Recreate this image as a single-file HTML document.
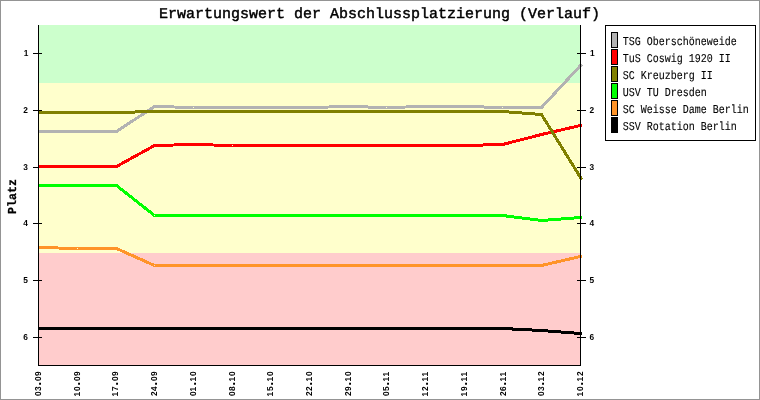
<!DOCTYPE html>
<html lang="de"><head><meta charset="utf-8"><title>Erwartungswert der Abschlussplatzierung (Verlauf)</title>
<style>html,body{margin:0;padding:0;background:#fff}svg{display:block}text{text-rendering:geometricPrecision;font-family:"Liberation Mono","DejaVu Sans Mono",monospace;fill:#000}</style></head><body>
<svg width="760" height="400" viewBox="0 0 760 400">
<g shape-rendering="crispEdges">
<rect x="0" y="0" width="760" height="400" fill="#fff"/>
<rect x="0.5" y="0.5" width="759" height="399" fill="none" stroke="#949494" stroke-width="1"/>
<rect x="39" y="25" width="542" height="58" fill="#ccffcc"/>
<rect x="39" y="83" width="542" height="170" fill="#ffffcc"/>
<rect x="39" y="253" width="542" height="112" fill="#ffcccc"/>
<rect x="33" y="53" width="9" height="1" fill="#000"/>
<rect x="577" y="53" width="9" height="1" fill="#000"/>
<rect x="33" y="110" width="9" height="1" fill="#000"/>
<rect x="577" y="110" width="9" height="1" fill="#000"/>
<rect x="33" y="167" width="9" height="1" fill="#000"/>
<rect x="577" y="167" width="9" height="1" fill="#000"/>
<rect x="33" y="223" width="9" height="1" fill="#000"/>
<rect x="577" y="223" width="9" height="1" fill="#000"/>
<rect x="33" y="280" width="9" height="1" fill="#000"/>
<rect x="577" y="280" width="9" height="1" fill="#000"/>
<rect x="33" y="337" width="9" height="1" fill="#000"/>
<rect x="577" y="337" width="9" height="1" fill="#000"/>
<polyline points="39.0,131.5 77.5,131.5 116.5,131.5 154.5,106.5 193.5,107.5 232.5,107.5 270.5,107.5 309.5,107.5 348.5,106.5 386.5,107.5 425.5,106.5 464.5,106.5 502.5,107.5 541.5,107.5 580.5,65.5 581.7,64.21" fill="none" stroke="#b2b2b2" stroke-width="3" stroke-linejoin="round"/>
<polyline points="39.0,166.5 77.5,166.5 116.5,166.5 154.5,145.5 193.5,144.5 232.5,145.5 270.5,145.5 309.5,145.5 348.5,145.5 386.5,145.5 425.5,145.5 464.5,145.5 502.5,144.5 541.5,134.5 580.5,125.5 581.7,125.22" fill="none" stroke="#ff0000" stroke-width="3" stroke-linejoin="round"/>
<polyline points="39.0,112.5 77.5,112.5 116.5,112.5 154.5,111.5 193.5,111.5 232.5,111.5 270.5,111.5 309.5,111.5 348.5,111.5 386.5,111.5 425.5,111.5 464.5,111.5 502.5,111.5 541.5,114.5 580.5,177.5 581.7,179.44" fill="none" stroke="#808000" stroke-width="3" stroke-linejoin="round"/>
<polyline points="39.0,185.5 77.5,185.5 116.5,185.5 154.5,215.5 193.5,215.5 232.5,215.5 270.5,215.5 309.5,215.5 348.5,215.5 386.5,215.5 425.5,215.5 464.5,215.5 502.5,215.5 541.5,220.5 580.5,217.5 581.7,217.41" fill="none" stroke="#00ff00" stroke-width="3" stroke-linejoin="round"/>
<polyline points="39.0,247.5 77.5,248.5 116.5,248.5 154.5,265.5 193.5,265.5 232.5,265.5 270.5,265.5 309.5,265.5 348.5,265.5 386.5,265.5 425.5,265.5 464.5,265.5 502.5,265.5 541.5,265.5 580.5,256.5 581.7,256.22" fill="none" stroke="#ff9429" stroke-width="3" stroke-linejoin="round"/>
<polyline points="39.0,328.5 77.5,328.5 116.5,328.5 154.5,328.5 193.5,328.5 232.5,328.5 270.5,328.5 309.5,328.5 348.5,328.5 386.5,328.5 425.5,328.5 464.5,328.5 502.5,328.5 541.5,330.5 580.5,333.5 581.7,333.59" fill="none" stroke="#000000" stroke-width="3" stroke-linejoin="round"/>
<rect x="38" y="25" width="1" height="341" fill="#000"/>
<rect x="580" y="25" width="1" height="341" fill="#000"/>
<rect x="38" y="365" width="543" height="1" fill="#000"/>
<rect x="605.5" y="25.5" width="150" height="115" fill="#fff" stroke="#000" stroke-width="1"/>
<rect x="611.5" y="32.5" width="6" height="15" fill="#b2b2b2" stroke="#000" stroke-width="1"/>
<rect x="611.5" y="49.5" width="6" height="15" fill="#ff0000" stroke="#000" stroke-width="1"/>
<rect x="611.5" y="66.5" width="6" height="15" fill="#808000" stroke="#000" stroke-width="1"/>
<rect x="611.5" y="83.5" width="6" height="15" fill="#00ff00" stroke="#000" stroke-width="1"/>
<rect x="611.5" y="100.5" width="6" height="15" fill="#ff9429" stroke="#000" stroke-width="1"/>
<rect x="611.5" y="117.5" width="6" height="15" fill="#000000" stroke="#000" stroke-width="1"/>
</g>
<text id="title" x="159" y="17.5" font-size="15" stroke="#000" stroke-width="0.45" textLength="441" lengthAdjust="spacing">Erwartungswert der Abschlussplatzierung (Verlauf)</text>
<text class="leg" transform="translate(622.8,45) scale(0.8333,1)" font-size="12" stroke="#000" stroke-width="0.1">TSG Oberschöneweide</text>
<text class="leg" transform="translate(622.8,62) scale(0.8333,1)" font-size="12" stroke="#000" stroke-width="0.1">TuS Coswig 1920 II</text>
<text class="leg" transform="translate(622.8,79) scale(0.8333,1)" font-size="12" stroke="#000" stroke-width="0.1">SC Kreuzberg II</text>
<text class="leg" transform="translate(622.8,96) scale(0.8333,1)" font-size="12" stroke="#000" stroke-width="0.1">USV TU Dresden</text>
<text class="leg" transform="translate(622.8,113) scale(0.8333,1)" font-size="12" stroke="#000" stroke-width="0.1">SC Weisse Dame Berlin</text>
<text class="leg" transform="translate(622.8,130) scale(0.8333,1)" font-size="12" stroke="#000" stroke-width="0.1">SSV Rotation Berlin</text>
<text class="tk" transform="translate(23.2,56) scale(0.97,1)" x="0.52" style="font-family:'Liberation Sans',Arial,sans-serif" font-size="8.6" font-weight="bold">1</text>
<text class="tk" transform="translate(589.5,56) scale(0.97,1)" x="0.52" style="font-family:'Liberation Sans',Arial,sans-serif" font-size="8.6" font-weight="bold">1</text>
<text class="tk" transform="translate(23.2,113) scale(0.97,1)" x="0.00" style="font-family:'Liberation Sans',Arial,sans-serif" font-size="8.6" font-weight="bold">2</text>
<text class="tk" transform="translate(589.5,113) scale(0.97,1)" x="0.00" style="font-family:'Liberation Sans',Arial,sans-serif" font-size="8.6" font-weight="bold">2</text>
<text class="tk" transform="translate(23.2,170) scale(0.97,1)" x="0.00" style="font-family:'Liberation Sans',Arial,sans-serif" font-size="8.6" font-weight="bold">3</text>
<text class="tk" transform="translate(589.5,170) scale(0.97,1)" x="0.00" style="font-family:'Liberation Sans',Arial,sans-serif" font-size="8.6" font-weight="bold">3</text>
<text class="tk" transform="translate(23.2,226) scale(0.97,1)" x="0.00" style="font-family:'Liberation Sans',Arial,sans-serif" font-size="8.6" font-weight="bold">4</text>
<text class="tk" transform="translate(589.5,226) scale(0.97,1)" x="0.00" style="font-family:'Liberation Sans',Arial,sans-serif" font-size="8.6" font-weight="bold">4</text>
<text class="tk" transform="translate(23.2,283) scale(0.97,1)" x="0.00" style="font-family:'Liberation Sans',Arial,sans-serif" font-size="8.6" font-weight="bold">5</text>
<text class="tk" transform="translate(589.5,283) scale(0.97,1)" x="0.00" style="font-family:'Liberation Sans',Arial,sans-serif" font-size="8.6" font-weight="bold">5</text>
<text class="tk" transform="translate(23.2,340) scale(0.97,1)" x="0.00" style="font-family:'Liberation Sans',Arial,sans-serif" font-size="8.6" font-weight="bold">6</text>
<text class="tk" transform="translate(589.5,340) scale(0.97,1)" x="0.00" style="font-family:'Liberation Sans',Arial,sans-serif" font-size="8.6" font-weight="bold">6</text>
<text class="xl" transform="translate(41,396) rotate(-90) scale(0.97,1)" x="0.00 5.15 10.93 15.46 20.62" style="font-family:'Liberation Sans',Arial,sans-serif" font-size="8.6" font-weight="bold">03<tspan font-size="13">.</tspan>09</text>
<text class="xl" transform="translate(80,396) rotate(-90) scale(0.97,1)" x="-0.41 5.15 10.93 15.46 20.62" style="font-family:'Liberation Sans',Arial,sans-serif" font-size="8.6" font-weight="bold">10<tspan font-size="13">.</tspan>09</text>
<text class="xl" transform="translate(118,396) rotate(-90) scale(0.97,1)" x="-0.41 5.15 10.93 15.46 20.62" style="font-family:'Liberation Sans',Arial,sans-serif" font-size="8.6" font-weight="bold">17<tspan font-size="13">.</tspan>09</text>
<text class="xl" transform="translate(157,396) rotate(-90) scale(0.97,1)" x="0.00 5.15 10.93 15.46 20.62" style="font-family:'Liberation Sans',Arial,sans-serif" font-size="8.6" font-weight="bold">24<tspan font-size="13">.</tspan>09</text>
<text class="xl" transform="translate(196,396) rotate(-90) scale(0.97,1)" x="0.00 4.74 10.93 15.05 20.62" style="font-family:'Liberation Sans',Arial,sans-serif" font-size="8.6" font-weight="bold">01<tspan font-size="13">.</tspan>10</text>
<text class="xl" transform="translate(235,396) rotate(-90) scale(0.97,1)" x="0.00 5.15 10.93 15.05 20.62" style="font-family:'Liberation Sans',Arial,sans-serif" font-size="8.6" font-weight="bold">08<tspan font-size="13">.</tspan>10</text>
<text class="xl" transform="translate(273,396) rotate(-90) scale(0.97,1)" x="-0.41 5.15 10.93 15.05 20.62" style="font-family:'Liberation Sans',Arial,sans-serif" font-size="8.6" font-weight="bold">15<tspan font-size="13">.</tspan>10</text>
<text class="xl" transform="translate(312,396) rotate(-90) scale(0.97,1)" x="0.00 5.15 10.93 15.05 20.62" style="font-family:'Liberation Sans',Arial,sans-serif" font-size="8.6" font-weight="bold">22<tspan font-size="13">.</tspan>10</text>
<text class="xl" transform="translate(351,396) rotate(-90) scale(0.97,1)" x="0.00 5.15 10.93 15.05 20.62" style="font-family:'Liberation Sans',Arial,sans-serif" font-size="8.6" font-weight="bold">29<tspan font-size="13">.</tspan>10</text>
<text class="xl" transform="translate(389,396) rotate(-90) scale(0.97,1)" x="0.00 5.15 10.93 15.05 20.21" style="font-family:'Liberation Sans',Arial,sans-serif" font-size="8.6" font-weight="bold">05<tspan font-size="13">.</tspan>11</text>
<text class="xl" transform="translate(428,396) rotate(-90) scale(0.97,1)" x="-0.41 5.15 10.93 15.05 20.21" style="font-family:'Liberation Sans',Arial,sans-serif" font-size="8.6" font-weight="bold">12<tspan font-size="13">.</tspan>11</text>
<text class="xl" transform="translate(467,396) rotate(-90) scale(0.97,1)" x="-0.41 5.15 10.93 15.05 20.21" style="font-family:'Liberation Sans',Arial,sans-serif" font-size="8.6" font-weight="bold">19<tspan font-size="13">.</tspan>11</text>
<text class="xl" transform="translate(506,396) rotate(-90) scale(0.97,1)" x="0.00 5.15 10.93 15.05 20.21" style="font-family:'Liberation Sans',Arial,sans-serif" font-size="8.6" font-weight="bold">26<tspan font-size="13">.</tspan>11</text>
<text class="xl" transform="translate(544,396) rotate(-90) scale(0.97,1)" x="0.00 5.15 10.93 15.05 20.62" style="font-family:'Liberation Sans',Arial,sans-serif" font-size="8.6" font-weight="bold">03<tspan font-size="13">.</tspan>12</text>
<text class="xl" transform="translate(583,396) rotate(-90) scale(0.97,1)" x="-0.41 5.15 10.93 15.05 20.62" style="font-family:'Liberation Sans',Arial,sans-serif" font-size="8.6" font-weight="bold">10<tspan font-size="13">.</tspan>12</text>
<text id="yt" transform="translate(15.6,214) rotate(-90) scale(0.9563,1)" font-size="12.2" stroke="#000" stroke-width="0.25" font-weight="bold">Platz</text>
</svg></body></html>
